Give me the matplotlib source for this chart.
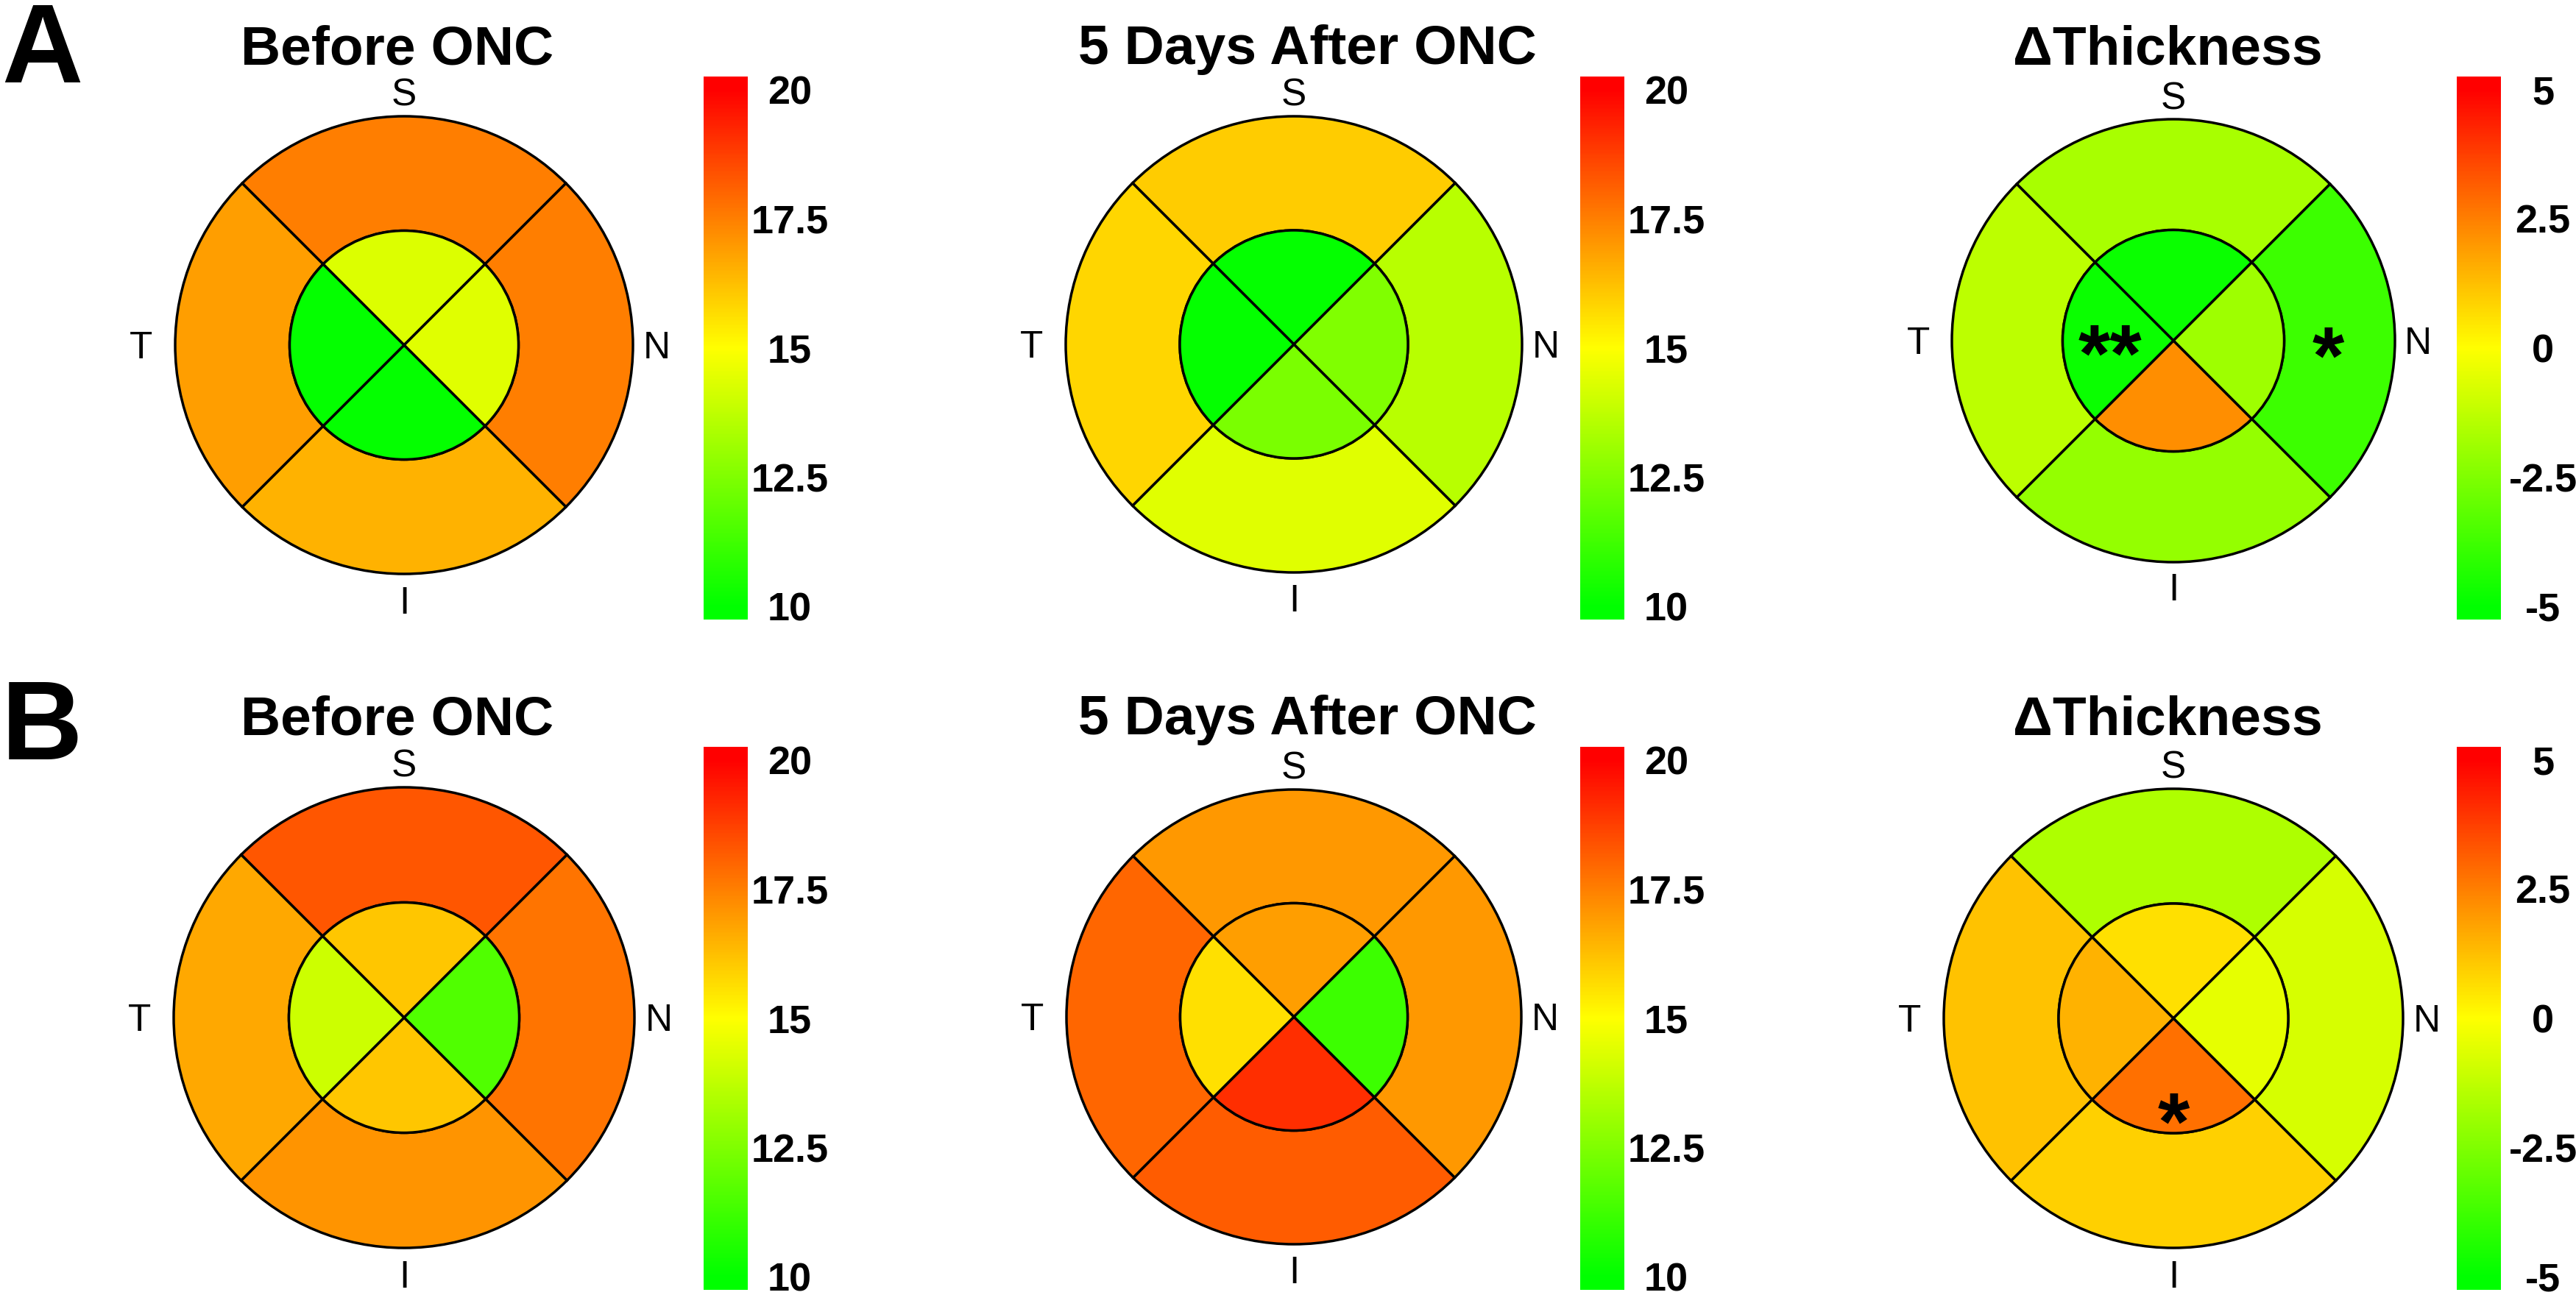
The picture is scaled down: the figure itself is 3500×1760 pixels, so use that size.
import numpy as np
import matplotlib
matplotlib.use("Agg")
import matplotlib.pyplot as plt
from matplotlib.patches import Wedge
from matplotlib.colors import LinearSegmentedColormap, Normalize
from matplotlib.cm import ScalarMappable

plt.rcParams['font.family'] = ['Liberation Sans', 'DejaVu Sans']

# ---- data (sector order: S, N, I, T) ----
regions = ['S', 'N', 'I', 'T']

before_A_outer = [17.5, 17.5, 16.5, 16.9]
before_A_inner = [14.3, 14.4, 10.1, 10.1]
after_A_outer = [16.0, 13.6, 14.4, 15.8]
after_A_inner = [10.1, 12.5, 12.4, 10.1]
delta_A_outer = [-1.7, -3.8, -2.1, -1.3]
delta_A_inner = [-4.8, -1.9, 2.2, -4.8]

before_B_outer = [18.3, 17.7, 17.1, 16.7]
before_B_inner = [16.1, 11.6, 16.1, 14.0]
after_B_outer = [17.0, 17.0, 18.2, 18.0]
after_B_inner = [16.9, 11.2, 19.1, 15.6]
delta_B_outer = [-1.6, -0.8, 0.9, 1.2]
delta_B_inner = [0.6, -0.5, 2.8, 1.5]

titles = ['Before ONC', '5 Days After ONC', '\u0394Thickness']
thick_ticks = [10, 12.5, 15, 17.5, 20]
thick_labels = ['10', '12.5', '15', '17.5', '20']
delta_ticks = [-5, -2.5, 0, 2.5, 5]
delta_labels = ['-5', '-2.5', '0', '2.5', '5']

# significance marks: (text, x, y) in circle units
marks_A = [('**', -0.286, -0.186), ('*', 0.698, -0.193)]
marks_B = [('*', 0.0, -0.571)]

# ---- layout (pixels) ----
W, H = 3500, 1760
fig = plt.figure(figsize=(W / 100, H / 100), dpi=100)
cmap = LinearSegmentedColormap.from_list('gyr', ['#00ff00', '#ffff00', '#ff0000'])

angles = {'S': (45, 135), 'N': (-45, 45), 'I': (225, 315), 'T': (135, 225)}


def px_axes(x0, y0, w, h):
    return fig.add_axes([x0 / W, 1 - (y0 + h) / H, w / W, h / H])


def draw_panel(cx, cy, r, outer, inner, vmin, vmax, marks):
    s = 1.3 * r
    ax = px_axes(cx - s, cy - s, 2 * s, 2 * s)
    ax.set_xlim(-s / r, s / r)
    ax.set_ylim(-s / r, s / r)
    ax.axis('off')
    norm = Normalize(vmin, vmax)
    for i, reg in enumerate(regions):
        t1, t2 = angles[reg]
        ax.add_patch(Wedge((0, 0), 1.0, t1, t2, width=0.5, facecolor=cmap(norm(outer[i])),
                           edgecolor='black', lw=2.5))
        ax.add_patch(Wedge((0, 0), 0.5, t1, t2, facecolor=cmap(norm(inner[i])),
                           edgecolor='black', lw=2.5))
    # S/T/N/I labels, centred on cap height
    cap = 18.4 / r
    for txt, x, y in [('S', 0, 1.106), ('N', 1.105, 0), ('I', 0, -1.113), ('T', -1.15, 0)]:
        ax.text(x, y - cap, txt, ha='center', va='baseline', fontsize=37)
    for txt, x, y in marks:
        ax.text(x, y, txt, ha='center', va='baseline', fontsize=80, fontweight='bold')


def draw_cbar(x0, y0, vmin, vmax, ticks, labels):
    cax = px_axes(x0, y0, 60, 738)
    pad = 0.025 * (vmax - vmin)
    sm = ScalarMappable(norm=Normalize(vmin, vmax), cmap=cmap)
    cb = fig.colorbar(sm, cax=cax, boundaries=np.linspace(vmin - pad, vmax + pad, 400),
                      ticks=ticks)
    cb.outline.set_visible(False)
    cb.set_ticklabels(labels)
    cax.tick_params(length=0, pad=41)
    for lbl in cax.get_yticklabels():
        lbl.set_ha('center')
        lbl.set_fontweight('bold')
        lbl.set_fontsize(39)


rows = [
    dict(letter='A', letter_y=112, title_y=87, cy=[469, 468, 463], r=[311, 310, 301], cb_y=104,
         data=[(before_A_outer, before_A_inner), (after_A_outer, after_A_inner),
               (delta_A_outer, delta_A_inner)], marks=marks_A),
    dict(letter='B', letter_y=1032, title_y=998, cy=[1383, 1382, 1384], r=[313, 309, 312], cb_y=1015,
         data=[(before_B_outer, before_B_inner), (after_B_outer, after_B_inner),
               (delta_B_outer, delta_B_inner)], marks=marks_B),
]
col_cx = [549, 1758, 2953]
col_title_x = [540, 1776, 2945]
col_cb_x = [956, 2147, 3338]

for row in rows:
    fig.text(2 / W, 1 - row['letter_y'] / H, row['letter'], ha='left', va='baseline',
             fontsize=110, fontweight='bold')
    for j in range(3):
        outer, inner = row['data'][j]
        if j < 2:
            vmin, vmax, ticks, labels = 10, 20, thick_ticks, thick_labels
            marks = []
        else:
            vmin, vmax, ticks, labels = -5, 5, delta_ticks, delta_labels
            marks = row['marks']
        draw_panel(col_cx[j], row['cy'][j], row['r'][j], outer, inner, vmin, vmax, marks)
        draw_cbar(col_cb_x[j], row['cb_y'], vmin, vmax, ticks, labels)
        fig.text(col_title_x[j] / W, 1 - row['title_y'] / H, titles[j], ha='center',
                 va='baseline', fontsize=54, fontweight='bold')

fig.savefig('out.png', dpi=100)
